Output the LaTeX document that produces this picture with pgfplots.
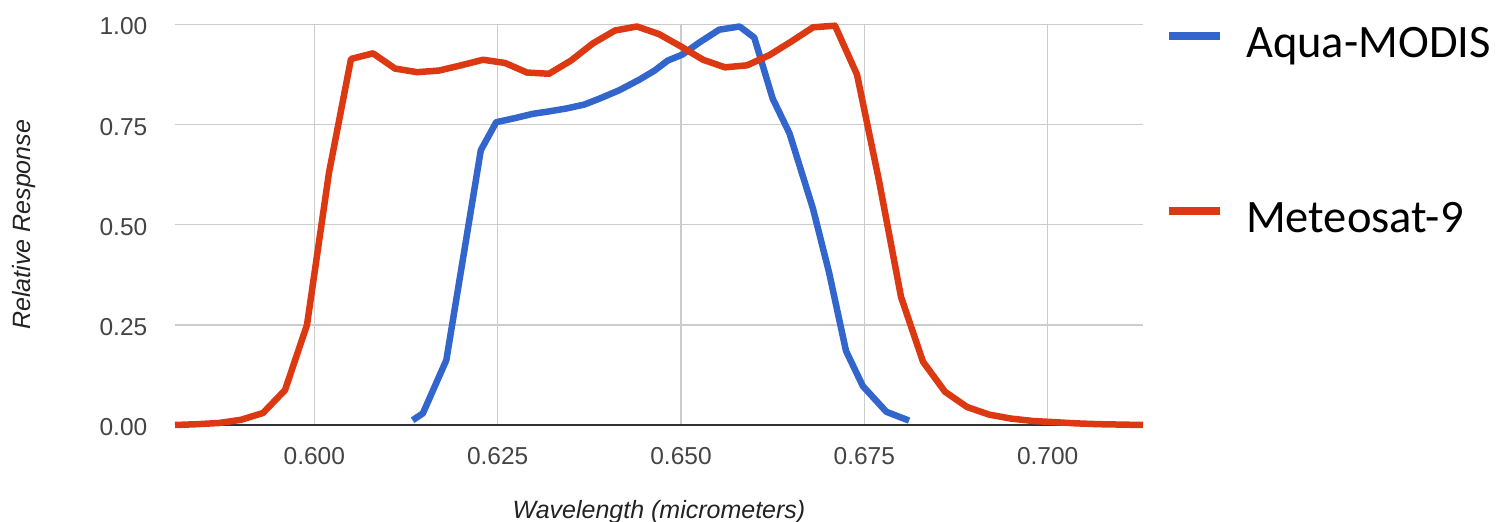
\documentclass[border=0pt]{standalone}
\usepackage{pgfplots}
\pgfplotsset{compat=1.18}
\usepackage{fontspec}
\setmainfont{Liberation Sans}
\newfontfamily\calibri{Carlito}
\definecolor{gblue}{HTML}{3366CC}
\definecolor{gred}{HTML}{DC3912}
\definecolor{gridc}{HTML}{CCCCCC}
\definecolor{tickc}{HTML}{444444}
\definecolor{titlec}{HTML}{222222}
\begin{document}
\begin{tikzpicture}
\path[use as bounding box] (0,0) rectangle (1500pt,522pt);
\begin{axis}[
  at={(175pt,97pt)}, anchor=south west,
  scale only axis, width=968pt, height=400.5pt,
  xmin=0.581, xmax=0.713, ymin=0, ymax=1,
  clip=false,
  axis line style={draw=none},
  major tick length=0pt,
  xtick={0.600,0.625,0.650,0.675,0.700},
  ytick={0,0.25,0.5,0.75,1},
  scaled ticks=false,
  grid=major,
  grid style={draw=gridc, line width=1.3pt},
  extra y ticks={0},
  extra y tick labels={},
  extra y tick style={grid style={draw=black!80, line width=1.6pt}},
  /pgf/number format/assume math mode=true,
  every tick label/.append style={font=\fontsize{24.5}{28}\selectfont, text=tickc, inner sep=0pt},
  xticklabel style={anchor=north, /pgf/number format/.cd, fixed, fixed zerofill, precision=3},
  yticklabel style={anchor=east, yshift=-2pt, /pgf/number format/.cd, fixed, fixed zerofill, precision=2},
  xticklabel shift=22.5pt,
  yticklabel shift=27.5pt,
  xlabel={Wavelength (micrometers)},
  ylabel={Relative Response},
  xlabel style={font=\itshape\fontsize{25}{28}\selectfont, text=titlec, inner sep=0pt, at={([yshift=-93pt]axis description cs:0.5,0)}, anchor=base},
  ylabel style={font=\itshape\fontsize{25}{28}\selectfont, text=titlec, inner sep=0pt, at={([xshift=-151pt]axis description cs:0,0.5)}, anchor=center},
  legend style={draw=none, fill=none, inner sep=0pt, row sep=122pt, column sep=22pt,
    at={(1.02273,1.0262)}, anchor=north west,
    font=\calibri\fontsize{46.5}{50}\selectfont,
    nodes={inner sep=0pt, text height=32pt, text depth=10pt}},
  legend cell align=left,
  legend image code/.code={\path[draw=none, fill=none] (0pt,-10pt) rectangle (51pt,32pt);
    \draw[#1, line width=8pt] (0pt,10pt) -- (51pt,10pt);},
]
\addplot[gblue, line width=6.5pt, line join=round] coordinates {
(0.6134,0.012) (0.6148,0.029) (0.6180,0.162) (0.6227,0.686) (0.6248,0.756)
(0.6273,0.766) (0.6298,0.777) (0.6320,0.783) (0.6343,0.790) (0.6368,0.800)
(0.6389,0.815) (0.6416,0.836) (0.6443,0.862) (0.6464,0.885) (0.6482,0.910)
(0.6502,0.925) (0.6525,0.955) (0.6552,0.987) (0.6580,0.995) (0.6600,0.967)
(0.6625,0.815) (0.6648,0.728) (0.6680,0.540) (0.6702,0.380) (0.6725,0.185)
(0.6748,0.097) (0.6780,0.033) (0.6811,0.011)
};
\addlegendentry{Aqua-MODIS}
\addplot[gred, line width=6.5pt, line join=round] coordinates {
(0.581,0.000) (0.584,0.002) (0.587,0.005) (0.590,0.013) (0.593,0.030)
(0.596,0.087) (0.599,0.250) (0.602,0.630) (0.605,0.914) (0.608,0.928)
(0.611,0.890) (0.614,0.881) (0.617,0.885) (0.620,0.898) (0.623,0.912)
(0.626,0.904) (0.629,0.880) (0.632,0.877) (0.635,0.910) (0.638,0.953)
(0.641,0.985) (0.644,0.995) (0.647,0.976) (0.650,0.945) (0.653,0.912)
(0.656,0.893) (0.659,0.898) (0.662,0.923) (0.665,0.957) (0.668,0.993)
(0.671,0.997) (0.674,0.875) (0.677,0.610) (0.680,0.320) (0.683,0.158)
(0.686,0.083) (0.689,0.045) (0.692,0.026) (0.695,0.016) (0.698,0.010)
(0.701,0.007) (0.704,0.004) (0.707,0.002) (0.710,0.001) (0.713,0.000)
};
\addlegendentry{Meteosat-9}
\end{axis}
\end{tikzpicture}
\end{document}
